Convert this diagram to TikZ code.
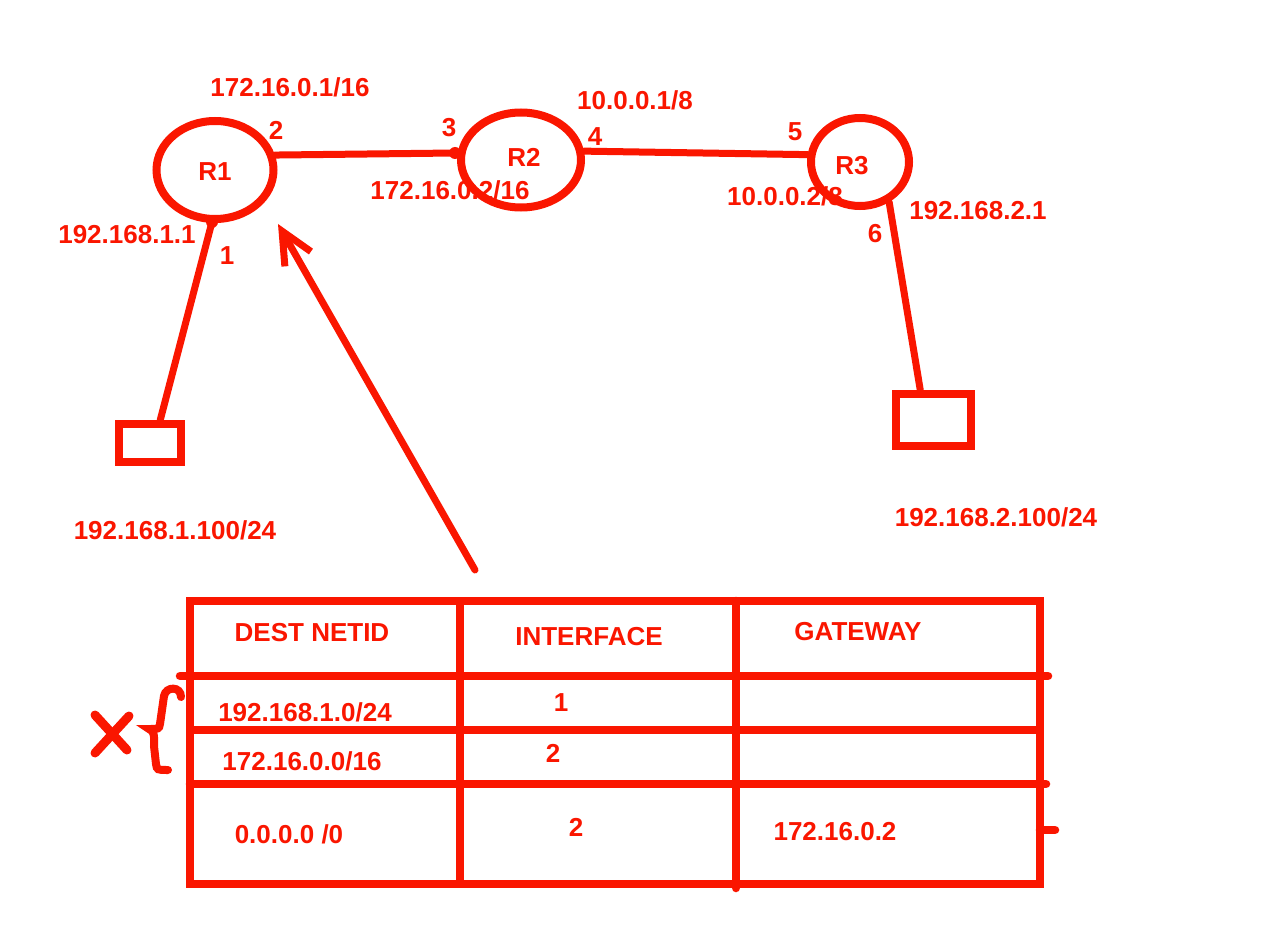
\documentclass[tikz,border=0pt]{standalone}
\usepackage{fontspec}
\setmainfont{Liberation Sans}
\usetikzlibrary{shapes.geometric,arrows.meta}
\definecolor{ink}{RGB}{250,22,0}
\tikzset{
  router/.style={ellipse, draw=ink, line width=8pt, inner sep=0pt},
  host/.style={rectangle, draw=ink, line width=8pt, inner sep=0pt},
  link/.style={draw=ink, line width=7pt, line cap=round},
  lbl/.style={text=ink, font=\fontsize{26}{30}\selectfont\bfseries, inner sep=0pt},
  rule/.style={draw=ink, line width=8.5pt},
  port/.style={fill=ink, circle, inner sep=0pt, minimum size=12pt}
}
\begin{document}
\begin{tikzpicture}[x=1pt,y=-1pt]
\useasboundingbox (0,0) rectangle (1288,928);
\fill[white] (0,0) rectangle (1288,928);

% routers
\node[router, minimum width=117pt, minimum height=98pt] (R1) at (215,170) {};
\node[router, minimum width=120pt, minimum height=95pt] (R2) at (521,160) {};
\node[router, minimum width=98pt, minimum height=88pt] (R3) at (860,162) {};
\node[lbl] (R1t) at (215,172) {R1};
\node[lbl] (R2t) at (524,157) {R2};
\node[lbl] (R3t) at (852,166) {R3};

% hosts
\node[host, minimum width=62pt, minimum height=38pt] (H1) at (150,443) {};
\node[host, minimum width=75pt, minimum height=52pt] (H2) at (933,420) {};

% links
\coordinate (p3) at (455,153);
\coordinate (p1) at (212,222);
\draw[link] (R1.14) -- (p3);
\draw[link] (R2.8) -- (R3.172);
\draw[link] (p1) -- (H1.66);
\draw[link] (R3.-54) -- (H2.113);
\node[port] (d3) at (p3) {};
\node[port] (d1) at (p1) {};

% interface labels
\node[lbl] (a1) at (290,87) {172.16.0.1/16};
\node[lbl] (n2) at (276,130) {2};
\node[lbl] (n3) at (449,128) {3};
\node[lbl] (a2) at (450,190) {172.16.0.2/16};
\node[lbl] (a3) at (635,100) {10.0.0.1/8};
\node[lbl] (n4) at (595,137) {4};
\node[lbl] (n5) at (795,132) {5};
\node[lbl] (a4) at (785,196) {10.0.0.2/8};
\node[lbl] (a5) at (978,211) {192.168.2.1};
\node[lbl] (n6) at (875,234) {6};
\node[lbl] (a6) at (127,235) {192.168.1.1};
\node[lbl] (n1) at (227,256) {1};
\node[lbl] (a7) at (175,530) {192.168.1.100/24};
\node[lbl] (a8) at (996,517) {192.168.2.100/24};

% pointer to R1
\coordinate (ptail) at (475,570);
\coordinate (phead) at (278,224);
\draw[link, -{Straight Barb[length=32pt,width=30pt,line width=7pt]}] (ptail) -- (phead);

% routing table
\draw[rule] (190,601) rectangle (1040,884);
\draw[rule] (460,601) -- (460,884);
\draw[rule, line cap=round] (736,601) -- (736,888);
\draw[rule, line cap=round] (180,676) -- (1048,676);
\draw[rule] (190,730) -- (1040,730);
\draw[rule, line cap=round] (190,784) -- (1046,784);
\draw[rule, line cap=round] (1040,830) -- (1055,830);

\node[lbl] (h1) at (312,633) {DEST NETID};
\node[lbl] (h2) at (589,637) {INTERFACE};
\node[lbl] (h3) at (858,632) {GATEWAY};
\node[lbl] (c11) at (305,712) {192.168.1.0/24};
\node[lbl] (c12) at (561,703) {1};
\node[lbl] (c21) at (302,761) {172.16.0.0/16};
\node[lbl] (c22) at (553,753) {2};
\node[lbl] (c31) at (289,834) {0.0.0.0 /0};
\node[lbl] (c32) at (576,827) {2};
\node[lbl] (c33) at (835,832) {172.16.0.2};

% cross and brace beside the first two rows
\draw[link, line width=9pt] (95,715) -- (127,750);
\draw[link, line width=9pt] (129,716) -- (95,753);
\draw[link, line width=8pt] (181,697) .. controls (181,686) and (166,686) .. (164,696)
  -- (160,724) .. controls (159,729) .. (149,729)
  .. controls (155,731) and (154,737) .. (154,746)
  -- (156,764) .. controls (157,770) .. (168,770);
\end{tikzpicture}
\end{document}
